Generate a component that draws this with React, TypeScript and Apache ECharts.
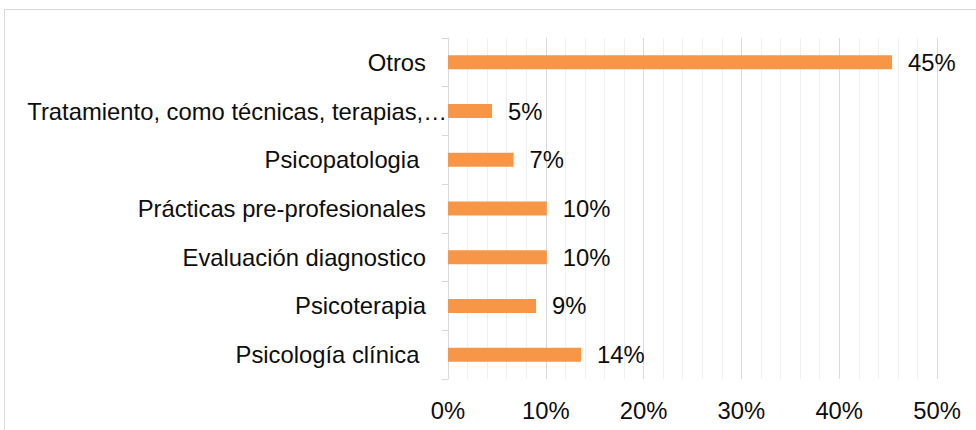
import React, { useEffect, useRef } from "react";
import * as echarts from "echarts";

// Categories listed bottom → top (ECharts category y-axis order)
const categories: string[] = [
  "Psicología clínica ",
  "Psicoterapia",
  "Evaluación diagnostico",
  "Prácticas pre-profesionales",
  "Psicopatologia ",
  "Tratamiento, como técnicas, terapias,…",
  "Otros",
];
const values: number[] = [0.136, 0.09, 0.101, 0.101, 0.067, 0.045, 0.454];
const xTicks: number[] = [0, 0.1, 0.2, 0.3, 0.4, 0.5];

const FONT = "Arial, 'Liberation Sans', sans-serif";
const TEXT = "#0d0d0d";
const FS = 23.8;

const pct = (v: number) => `${Math.round(Math.round(v * 1000) / 10 + 1e-9)}%`;

export default function App() {
  const ref = useRef<HTMLDivElement>(null);
  useEffect(() => {
    if (!ref.current) return;
    const chart = echarts.init(ref.current, undefined, { renderer: "svg" });
    chart.setOption({
      animation: false,
      backgroundColor: "#ffffff",
      graphic: [
        {
          type: "rect",
          shape: { x: 4.5, y: 9.5, width: 1000, height: 500 },
          style: { fill: "none", stroke: "#d9d9d9", lineWidth: 1 },
          silent: true,
        },
      ],
      grid: { left: 448, right: 39, top: 38, bottom: 51, containLabel: false },
      xAxis: {
        type: "value",
        min: xTicks[0],
        max: xTicks[xTicks.length - 1],
        interval: 0.1,
        axisLine: { show: false },
        axisTick: { show: false },
        axisLabel: {
          margin: 19,
          fontSize: FS,
          fontFamily: FONT,
          color: TEXT,
          formatter: (v: number) => `${Math.round(v * 100)}%`,
        },
        splitLine: { show: true, lineStyle: { color: "#d9d9d9", width: 1 } },
        minorTick: { show: false, splitNumber: 5 },
        minorSplitLine: { show: true, lineStyle: { color: "#efefef", width: 1 } },
      },
      yAxis: {
        type: "category",
        data: categories,
        axisLine: { show: true, lineStyle: { color: "#d9d9d9", width: 1 } },
        axisTick: { show: true, length: 6, alignWithLabel: false, lineStyle: { color: "#d9d9d9" } },
        axisLabel: {
          margin: 1,
          fontSize: FS,
          fontFamily: FONT,
          color: TEXT,
          formatter: (v: string) =>
            v.startsWith("Tratamiento") ? `{b|${v}}` : `{a|${v}}`,
          rich: {
            a: { fontSize: FS, fontFamily: FONT, color: TEXT, padding: [0, 21, 0, 0] },
            b: { fontSize: FS, fontFamily: FONT, color: TEXT, padding: [0, 0, 0, 0] },
          },
        },
        splitLine: { show: false },
      },
      series: [
        {
          type: "bar",
          data: values,
          barWidth: 14,
          itemStyle: { color: "#F79646" },
          label: {
            show: true,
            position: "right",
            distance: 16,
            fontSize: FS,
            fontFamily: FONT,
            color: TEXT,
            formatter: (p: any) => pct(p.value),
          },
        },
      ],
    });
    return () => chart.dispose();
  }, []);
  return (
    <div
      ref={ref}
      style={{ position: "fixed", left: 0, top: 0, width: 976, height: 430, background: "#fff" }}
    />
  );
}
